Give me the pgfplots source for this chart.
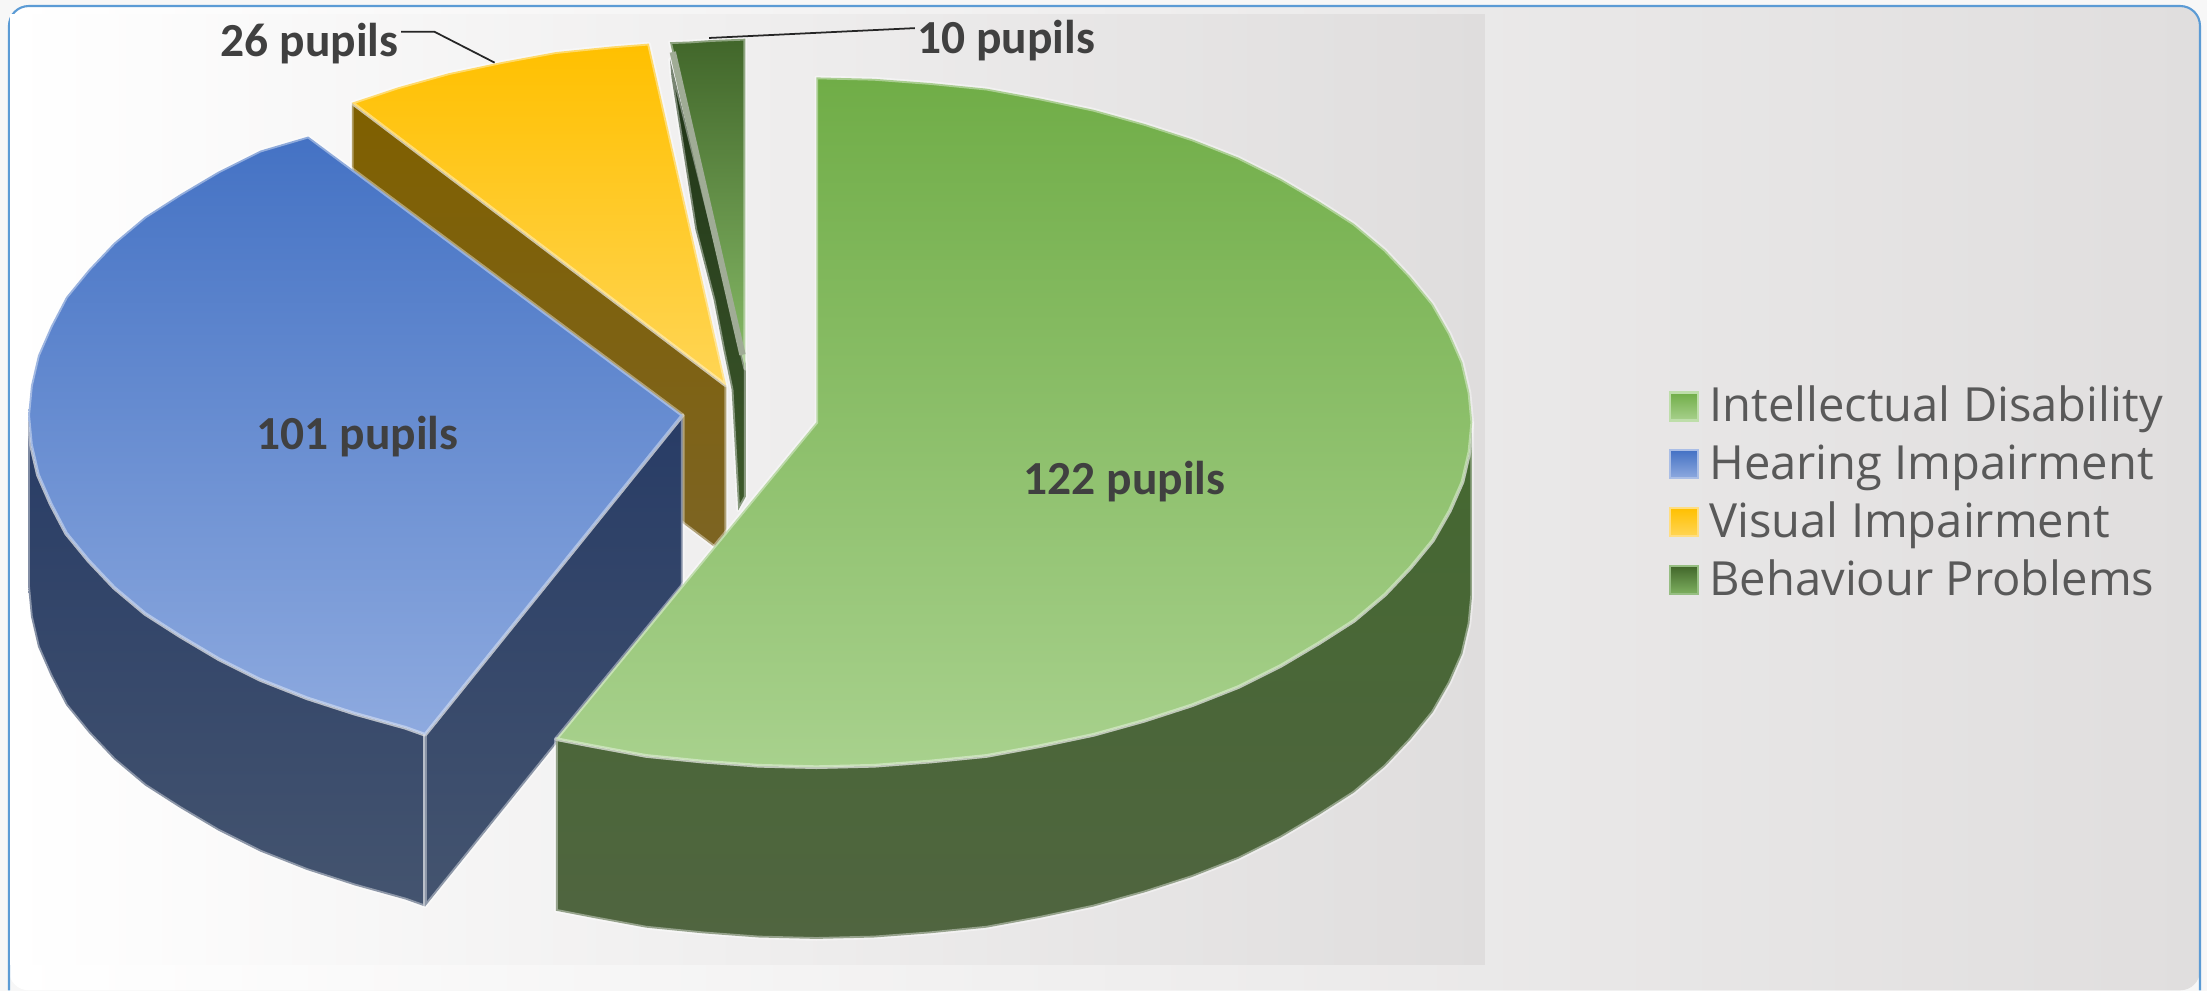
\documentclass[border=0pt]{standalone}
\usepackage{pgfplots}
\pgfplotsset{compat=1.18}
\usepackage{fontspec}
\setmainfont{Carlito}
\newfontfamily\legfont{Open Sans}
\definecolor{txt}{HTML}{404040}
\definecolor{legtxt}{HTML}{595959}
\begin{document}
\begin{tikzpicture}
\useasboundingbox (0,0) rectangle (22.07cm,9.91cm);
\begin{axis}[
  at={(0,0)}, anchor=south west,
  scale only axis, width=22.07cm, height=9.91cm,
  xmin=0, xmax=1568, ymin=0, ymax=704, y dir=reverse,
  axis lines=none, clip=true,
  legend style={at={(axis cs:1186,277)}, anchor=north west, draw=none, fill=none,
    inner sep=0pt, outer sep=0pt, font=\legfont\fontsize{13.4}{15}\selectfont\color{legtxt},
    row sep=6.4pt, nodes={inner sep=0pt, text depth=0.2ex, text height=1.9ex}},
  legend cell align=left,
  rim/.style={draw=white, draw opacity=0.40, line width=1.05pt, line join=round, forget plot, no marks, sharp plot},
]
% background
\path[fill=white!97!black] (axis cs:0,0) rectangle (axis cs:1568,704);
\shade[left color=white, right color={rgb,255:red,224;green,222;blue,222}, draw=none, rounded corners=5.6pt]
  (axis cs:6.4,4.3) rectangle (axis cs:1563,703.5);
\draw[color={rgb,255:red,91;green,155;blue,213}, line width=0.6pt, rounded corners=5.6pt]
  (axis cs:6.4,703.5) -- (axis cs:6.4,4.3) -- (axis cs:1563,4.3) -- (axis cs:1563,703.5);
\shade[left color=white, right color={rgb,255:red,223;green,221;blue,221}, draw=none]
  (axis cs:7.2,10) rectangle (axis cs:1055,685);

% legend entries
\addlegendimage{legend image code/.code={\path[draw=none,fill=none] (0cm,0cm) -- (0.39cm,0cm);\shade[top color={rgb,255:red,112;green,173;blue,71}, bottom color={rgb,255:red,168;green,209;blue,141}, draw={rgb,255:red,190;green,222;blue,170}, line width=0.6pt] (0cm,-0.13cm) rectangle (0.28cm,0.15cm);}}
\addlegendentry{Intellectual Disability}
\addlegendimage{legend image code/.code={\path[draw=none,fill=none] (0cm,0cm) -- (0.39cm,0cm);\shade[top color={rgb,255:red,68;green,114;blue,196}, bottom color={rgb,255:red,142;green,170;blue,223}, draw={rgb,255:red,170;green,190;blue,230}, line width=0.6pt] (0cm,-0.13cm) rectangle (0.28cm,0.15cm);}}
\addlegendentry{Hearing Impairment}
\addlegendimage{legend image code/.code={\path[draw=none,fill=none] (0cm,0cm) -- (0.39cm,0cm);\shade[top color={rgb,255:red,255;green,192;blue,0}, bottom color={rgb,255:red,255;green,213;blue,85}, draw={rgb,255:red,255;green,222;blue,130}, line width=0.6pt] (0cm,-0.13cm) rectangle (0.28cm,0.15cm);}}
\addlegendentry{Visual Impairment}
\addlegendimage{legend image code/.code={\path[draw=none,fill=none] (0cm,0cm) -- (0.39cm,0cm);\shade[top color={rgb,255:red,65;green,102;blue,42}, bottom color={rgb,255:red,125;green,175;blue,95}, draw={rgb,255:red,150;green,190;blue,130}, line width=0.6pt] (0cm,-0.13cm) rectangle (0.28cm,0.15cm);}}
\addlegendentry{Behaviour Problems}

% Behaviour Problems: side strip, top face, its grey edge
\addplot[rim, top color={rgb,255:red,30;green,50;blue,22}, bottom color={rgb,255:red,62;green,90;blue,44}]
  coordinates {(476,42)(477,54.5)(494,163)(507,213)(514,249)(519.8,277)(524.5,362.5)(529.8,353)(529.8,258)} --cycle;
\addplot[rim, top color={rgb,255:red,65;green,102;blue,42}, bottom color={rgb,255:red,135;green,187;blue,103}]
  coordinates {(476,30)(490,29.5)(505,28.5)(529.5,27.5)(529.5,262)} --cycle;
\addplot[forget plot, no marks, sharp plot, color={rgb,255:red,160;green,172;blue,150}, line width=1.8pt]
  coordinates {(478,37)(527.5,252)};

% Visual Impairment: cut face, top face
\addplot[rim, top color={rgb,255:red,127;green,96;blue,0}, bottom color={rgb,255:red,125;green,100;blue,35}]
  coordinates {(250,73)(516,274)(516,395)(250,194)} --cycle;
\addplot[rim, top color={rgb,255:red,255;green,192;blue,0}, bottom color={rgb,255:red,255;green,213;blue,85}]
  coordinates {(516,274)(250,73)(283,62)(319,52)(357,44)(395,37)(435,33)(461,31)} --cycle;

% Hearing Impairment: rim side, cut face, top face
\addplot[rim, top color={rgb,255:red,40;green,60;blue,102}, bottom color={rgb,255:red,68;green,84;blue,111}]
  coordinates {(20,295)(22,316)(27,337.5)(36,358)(47,379)(63,398.5)(81,417.5)(103,436)(128,452)(155,468)(185,483)(218,496)(252,507)(288,517)(302,522)
  (302,644)(288,639)(252,629)(218,618)(185,605)(155,590)(128,574)(103,558)(81,539.5)(63,520.5)(47,501)(36,480)(27,459.5)(22,438)(20,417)} --cycle;
\addplot[rim, top color={rgb,255:red,40;green,60;blue,102}, bottom color={rgb,255:red,68;green,84;blue,111}]
  coordinates {(302,522)(485,295)(485,417)(302,644)} --cycle;
\addplot[rim, top color={rgb,255:red,68;green,114;blue,196}, bottom color={rgb,255:red,142;green,170;blue,223}]
  coordinates {(485,295)(219,97)(185,107)(155,122)(128,138)(103,154)(81,172.5)(63,191.5)(47,211)(36,232)(27,252.5)(22,274)(20,295)(22,316)(27,337.5)(36,358)(47,379)(63,398.5)(81,417.5)(103,436)(128,452)(155,468)(185,483)(218,496)(252,507)(288,517)(302,522)} --cycle;

% Intellectual Disability: rim side, top face
\addplot[rim, top color={rgb,255:red,68;green,104;blue,48}, bottom color={rgb,255:red,80;green,101;blue,64}]
  coordinates {(1046,300)(1044,321)(1039,342.5)(1030,363)(1018,384)(1002,403.5)(984,422.5)(962,441)(937,457)(910,473)(880,488)(847,501)(813,512)(777,522)(739,530)(701,537)(661,541)(621,544)(580,545)(539,544)(499,541)(459,537)(421,530)(395,525)
  (395,647)(421,652)(459,659)(499,663)(539,666)(580,667)(621,666)(661,663)(701,659)(739,652)(777,644)(813,634)(847,623)(880,610)(910,595)(937,579)(962,563)(984,544.5)(1002,525.5)(1018,506)(1030,485)(1039,464.5)(1044,443)(1046,422)} --cycle;
\addplot[rim, top color={rgb,255:red,112;green,173;blue,71}, bottom color={rgb,255:red,168;green,209;blue,141}]
  coordinates {(580,300)(580,55)(621,56)(661,59)(701,63)(739,70)(777,78)(813,88)(847,99)(880,112)(910,127)(937,143)(962,159)(984,177.5)(1002,196.5)(1018,216)(1030,237)(1039,257.5)(1044,279)(1046,300)
  (1044,321)(1039,342.5)(1030,363)(1018,384)(1002,403.5)(984,422.5)(962,441)(937,457)(910,473)(880,488)(847,501)(813,512)(777,522)(739,530)(701,537)(661,541)(621,544)(580,545)(539,544)(499,541)(459,537)(421,530)(395,525)} --cycle;

% leader lines
\addplot[forget plot, no marks, sharp plot, black!85, line width=0.5pt] coordinates {(285,22.5)(308.5,22.5)(351.4,44.5)};
\addplot[forget plot, no marks, sharp plot, black!85, line width=0.5pt] coordinates {(503.8,27)(650,20)};

% data labels
\node[font=\bfseries\fontsize{13.5}{16}\selectfont, text=txt] at (axis cs:799,342) {122 pupils};
\node[font=\bfseries\fontsize{13.5}{16}\selectfont, text=txt] at (axis cs:254,310) {101 pupils};
\node[font=\bfseries\fontsize{13.5}{16}\selectfont, text=txt] at (axis cs:220,31) {26 pupils};
\node[font=\bfseries\fontsize{13.5}{16}\selectfont, text=txt] at (axis cs:715,29) {10 pupils};
\end{axis}
\end{tikzpicture}
\end{document}
